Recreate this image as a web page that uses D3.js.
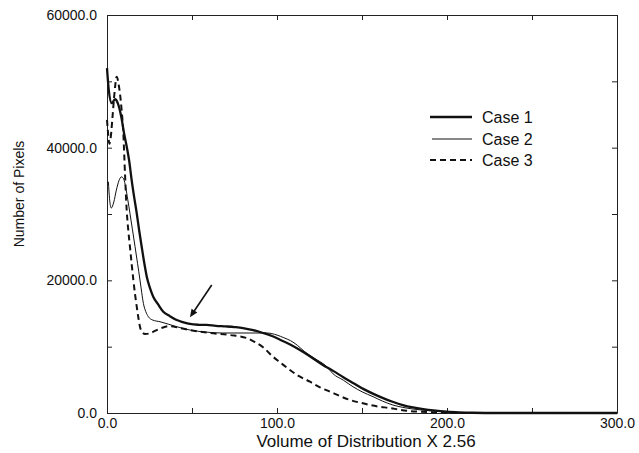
<!DOCTYPE html>
<html>
<head>
<meta charset="utf-8">
<script src="https://cdn.jsdelivr.net/npm/d3@7"></script>
<style>
  body { margin: 0; background: #fff; }
  text { font-family: "Liberation Sans", Arial, Helvetica, sans-serif; fill: #111; }
</style>
</head>
<body>
<div id="chart"></div>
<script>
// values: [volume, pixels]
var case1 = [[0,52000],[1,48800],[2.8,46700],[4.7,47300],[6.5,46600],[8.5,44500],[10,42200],[11.5,40300],[13,38100],[14.5,35100],[16,32500],[17.5,30100],[19,27400],[20.4,25070],[22,22500],[23.4,20550],[25.2,18900],[27.2,17530],[30,16400],[33.1,15270],[37,14600],[41,14020],[44.7,13700],[48.8,13420],[54,13300],[58.6,13270],[64,13150],[70,13050],[75,12950],[80,12810],[86,12500],[91.8,12060],[97,11600],[101.8,11050],[108,10300],[113.5,9500],[120,8450],[127,7240],[133,6350],[139,5400],[145,4500],[151,3600],[157,2850],[162.4,2250],[168,1700],[174,1200],[180,850],[186,600],[192,400],[198,250],[205,120],[215,40],[230,0],[300,0]];
var case2 = [[0.8,34870],[1.5,32300],[2.5,30900],[4,31800],[5.5,33600],[7,35000],[8.5,35600],[9.8,35300],[11,34000],[12.2,32200],[13.5,30100],[15,27600],[16.5,25070],[18,22500],[19.4,20050],[20.4,18200],[21.4,16540],[22.8,15300],[24.3,14520],[27,14000],[31.2,13760],[36,13400],[41,13010],[49,12500],[58,12200],[68,12060],[84,12060],[94,12060],[100,11750],[104,11350],[108,10900],[112,10200],[116,9300],[122,8250],[129.2,7000],[133,5900],[139,4950],[144.7,3960],[150,3200],[156.5,2460],[162,1800],[168.2,1200],[174,850],[180,600],[186,420],[192,300],[200,150],[210,50],[225,0],[300,0]];
var case3 = [[0,44200],[0.7,42000],[1.4,40600],[2.3,41800],[3.2,44500],[4.5,48500],[5.7,50700],[7,49300],[8.6,45700],[9.6,42200],[10.6,36000],[11.6,30500],[12.5,27600],[13.5,25070],[14.5,22500],[15.5,20050],[16.5,17900],[17.5,16020],[18.5,14300],[19.4,13010],[21,12100],[22.4,11900],[25,12000],[29.2,12500],[33,12900],[37,13100],[43,12800],[48.8,12500],[60.6,12060],[72.4,11750],[82.2,11300],[87,10700],[91.8,9900],[97.6,8490],[102,7600],[107.6,6480],[113,5550],[119.4,4720],[125,3900],[131.2,3210],[137,2550],[143,1960],[149,1550],[154.7,1200],[160,950],[166.5,750],[172,500],[178,300],[185,180],[190,120],[200,50],[215,0],[300,0]];

var seriesNames = ["Case 1", "Case 2", "Case 3"];
var xTicks = [0, 50, 100, 150, 200, 250, 300];
var yTicks = [0, 10000, 20000, 30000, 40000, 50000, 60000];
var arrowPts = [[61.6, 19300], [48.8, 14430]];

var width = 639, height = 453,
    margin = {top: 15, right: 22, bottom: 40, left: 107},
    w = width - margin.left - margin.right,
    h = height - margin.top - margin.bottom;

var svg = d3.select("#chart").append("svg")
    .attr("width", width)
    .attr("height", height);

var g = svg.append("g")
    .attr("transform", "translate(" + margin.left + "," + margin.top + ")");

var x = d3.scaleLinear().domain([0, 300]).range([0, w]);
var y = d3.scaleLinear().domain([0, 60000]).range([h, 0]);
var fmt = d3.format(".1f");

// axes, ticks pointing inwards on all four sides
g.append("g")
    .attr("class", "axis")
    .attr("transform", "translate(0," + h + ")")
    .call(d3.axisBottom(x).tickValues(xTicks).tickSizeInner(-5).tickSizeOuter(0).tickPadding(5)
      .tickFormat(function(d) { return d % 100 === 0 ? fmt(d) : ""; }));
g.append("g")
    .attr("class", "axis")
    .call(d3.axisTop(x).tickValues(xTicks).tickSizeInner(-5).tickSizeOuter(0).tickFormat(""));
g.append("g")
    .attr("class", "axis")
    .call(d3.axisLeft(y).tickValues(yTicks).tickSizeInner(-5).tickSizeOuter(0).tickPadding(10)
      .tickFormat(function(d) { return d % 20000 === 0 ? fmt(d) : ""; }));
g.append("g")
    .attr("class", "axis")
    .attr("transform", "translate(" + w + ",0)")
    .call(d3.axisRight(y).tickValues(yTicks).tickSizeInner(-5).tickSizeOuter(0).tickFormat(""));

g.selectAll(".axis text")
    .style("font-size", "14px")
    .style("font-family", "'Liberation Sans', Arial, sans-serif")
    .attr("fill", "#111");
g.selectAll(".axis line, .axis path").attr("stroke", "#222").attr("stroke-width", 1);

var line = d3.line()
    .x(function(d) { return x(d[0]); })
    .y(function(d) { return y(d[1]); })
    .curve(d3.curveMonotoneX);

var styles = [
  {data: case1, sw: 2.3, dash: null},
  {data: case2, sw: 1, dash: null},
  {data: case3, sw: 2, dash: "6,4"}
];

styles.forEach(function(s) {
  g.append("path")
      .datum(s.data)
      .attr("fill", "none")
      .attr("stroke", "#111")
      .attr("stroke-width", s.sw)
      .attr("stroke-dasharray", s.dash)
      .attr("d", line);
});

// arrow pointing at the shoulder
var ax0 = x(arrowPts[0][0]), ay0 = y(arrowPts[0][1]),
    ax1 = x(arrowPts[1][0]), ay1 = y(arrowPts[1][1]);
var ang = Math.atan2(ay1 - ay0, ax1 - ax0), hl = 8, hw = 3.5;
g.append("line")
    .attr("x1", ax0).attr("y1", ay0)
    .attr("x2", ax1 - Math.cos(ang) * 4).attr("y2", ay1 - Math.sin(ang) * 4)
    .attr("stroke", "#111").attr("stroke-width", 1.6);
g.append("path")
    .attr("d", "M" + ax1 + "," + ay1 +
      "L" + (ax1 - hl * Math.cos(ang) - hw * Math.sin(ang)) + "," + (ay1 - hl * Math.sin(ang) + hw * Math.cos(ang)) +
      "L" + (ax1 - hl * Math.cos(ang) + hw * Math.sin(ang)) + "," + (ay1 - hl * Math.sin(ang) - hw * Math.cos(ang)) + "Z")
    .attr("fill", "#111");

// legend
var legend = svg.append("g").attr("transform", "translate(430,117)");
var rows = legend.selectAll("g")
    .data(seriesNames)
    .enter().append("g")
    .attr("transform", function(d, i) { return "translate(0," + [0, 22, 43][i] + ")"; });
rows.append("line")
    .attr("x1", function(d, i) { return i === 1 ? 2 : 0; })
    .attr("x2", 42)
    .attr("stroke", "#111")
    .attr("stroke-width", function(d, i) { return styles[i].sw; })
    .attr("stroke-dasharray", function(d, i) { return styles[i].dash; });
rows.append("text")
    .attr("x", 52)
    .attr("y", 5.5)
    .style("font-size", "16px")
    .text(function(d) { return d; });

// axis titles
svg.append("text")
    .attr("x", 366)
    .attr("y", 447)
    .attr("text-anchor", "middle")
    .style("font-size", "17px")
    .text("Volume of Distribution X 2.56");
svg.append("text")
    .attr("transform", "translate(24,194) rotate(-90)")
    .attr("text-anchor", "middle")
    .style("font-size", "14px")
    .text("Number of Pixels");
</script>
</body>
</html>
